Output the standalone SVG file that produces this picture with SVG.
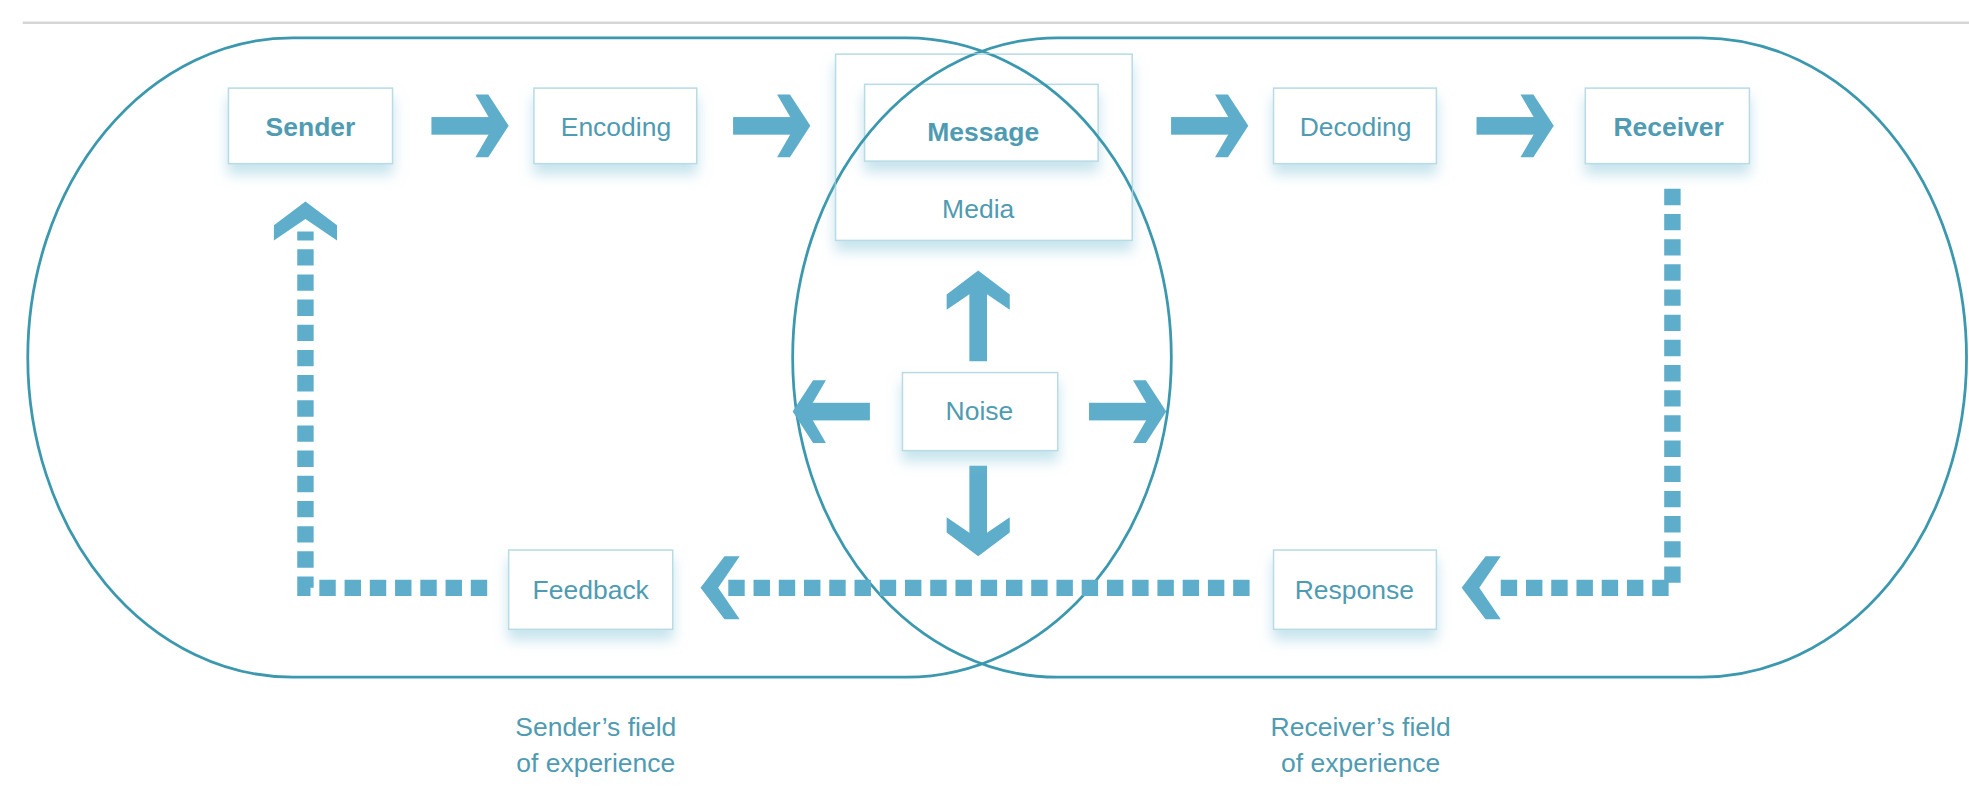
<svg xmlns="http://www.w3.org/2000/svg" width="1969" height="793" viewBox="0 0 1969 793">
<defs>
<style>
.box{fill:#fff;stroke:#b8dbe6;stroke-width:1.2;filter:url(#sh)}
.t{font-family:"Liberation Sans",Arial,sans-serif;font-size:21px;fill:#4f9bb2;text-anchor:middle}
.b{font-weight:bold}
.field{fill:none;stroke:#3c98ae;stroke-width:2.2}
.ar{fill:#5eaecb}
.dash{fill:none;stroke:#5eaecb;stroke-width:13;stroke-dasharray:13 7}
</style>
<filter id="sh" x="-20%" y="-20%" width="140%" height="160%"><feDropShadow dx="0" dy="8" stdDeviation="5" flood-color="#8cc8dc" flood-opacity="0.5"/></filter>
<g id="head"><polygon points="0,0 -19,-25 -31,-25 -14,0 -31,25 -19,25"/></g>
<g id="arr"><rect x="-72" y="-7" width="60" height="14"/><use href="#head"/></g>
</defs>
<rect width="1969" height="793" fill="#fff"/>
<g transform="scale(1.2622,1.2587)">
<line x1="18" y1="18" x2="1560" y2="18" stroke="#d6d6d6" stroke-width="2"/>
<g id="fields">
<rect class="field" x="22" y="30" width="906" height="508" rx="210" ry="254"/>
<rect class="field" x="628" y="30" width="930" height="508" rx="210" ry="254"/>
</g>
<g id="connectors" class="ar">
<use href="#arr" transform="translate(403,100) scale(0.85,1)"/>
<use href="#arr" transform="translate(642,100) scale(0.85,1)"/>
<use href="#arr" transform="translate(989,100) scale(0.85,1)"/>
<use href="#arr" transform="translate(1231,100) scale(0.85,1)"/>
<use href="#arr" transform="translate(775,215) rotate(-90)"/>
<use href="#arr" transform="translate(775,442) rotate(90)"/>
<use href="#arr" transform="translate(628,327) rotate(180) scale(0.85,1)"/>
<use href="#arr" transform="translate(924,327) scale(0.85,1)"/>
<path class="dash" d="M1325,150 V467 H1182"/>
<use href="#head" transform="translate(1158,467) rotate(180)"/>
<path class="dash" d="M990,467 H575"/>
<use href="#head" transform="translate(555,467) rotate(180)"/>
<path class="dash" d="M386,467 H242 V184"/>
<use href="#head" transform="translate(242,160) rotate(-90)"/>
</g>
<g id="sender"><rect class="box" x="181" y="70" width="130" height="60"/><text class="t b" x="246" y="108">Sender</text></g>
<g id="encoding"><rect class="box" x="423" y="70" width="129" height="60"/><text class="t" x="488" y="108">Encoding</text></g>
<g id="media"><rect class="box" x="662" y="43" width="235" height="148"/><text class="t" x="775" y="173">Media</text></g>
<g id="message"><rect class="box" x="685" y="67" width="185" height="61"/><text class="t b" x="779" y="112">Message</text></g>
<g id="decoding"><rect class="box" x="1009" y="70" width="129" height="60"/><text class="t" x="1074" y="108">Decoding</text></g>
<g id="receiver"><rect class="box" x="1256" y="70" width="130" height="60"/><text class="t b" x="1322" y="108">Receiver</text></g>
<g id="noise"><rect class="box" x="715" y="296" width="123" height="62"/><text class="t" x="776" y="334">Noise</text></g>
<g id="feedback"><rect class="box" x="403" y="437" width="130" height="63"/><text class="t" x="468" y="476">Feedback</text></g>
<g id="response"><rect class="box" x="1009" y="437" width="129" height="63"/><text class="t" x="1073" y="476">Response</text></g>
<clipPath id="mc"><rect x="662" y="43" width="235" height="148"/></clipPath>
<g id="fields-over">
<rect class="field" x="628" y="30" width="930" height="508" rx="210" ry="254" clip-path="url(#mc)"/>
<rect class="field" x="22" y="30" width="906" height="508" rx="210" ry="254" clip-path="url(#mc)"/>
</g>
<g id="labels">
<text class="t" x="472" y="585">Sender’s field</text>
<text class="t" x="472" y="613">of experience</text>
<text class="t" x="1078" y="585">Receiver’s field</text>
<text class="t" x="1078" y="613">of experience</text>
</g>
</g>
</svg>
